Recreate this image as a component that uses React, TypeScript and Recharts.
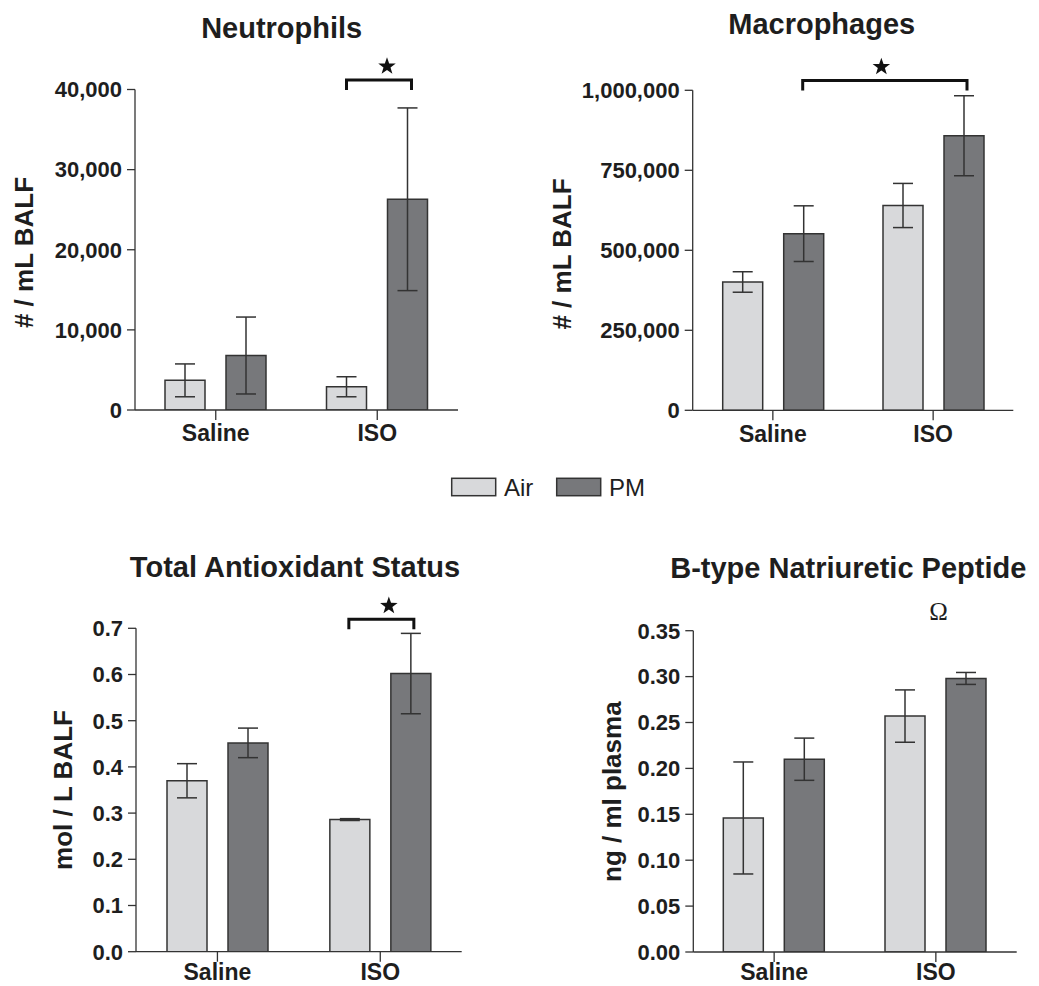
import React from 'react';
import { BarChart, Bar, XAxis, YAxis, ErrorBar } from 'recharts';

// ---- data ----
const groups = ['Saline', 'ISO'];
const seriesNames = ['Air', 'PM'];
const seriesColors = ['#d8d9db', '#77787b'];

const neutrophilAir = [3700, 2900];
const neutrophilAirErr = [2050, 1250];
const neutrophilPM = [6800, 26300];
const neutrophilPMErr = [4800, 11400];
const neutrophilTicks = [0, 10000, 20000, 30000, 40000];

const macrophageAir = [401000, 640000];
const macrophageAirErr = [32000, 69000];
const macrophagePM = [552000, 858000];
const macrophagePMErr = [87000, 125000];
const macrophageTicks = [0, 250000, 500000, 750000, 1000000];

const tasAir = [0.37, 0.286];
const tasAirErr = [0.037, 0.002];
const tasPM = [0.452, 0.602];
const tasPMErr = [0.032, 0.087];
const tasTicks = [0, 0.1, 0.2, 0.3, 0.4, 0.5, 0.6, 0.7];

const bnpAir = [0.146, 0.257];
const bnpAirErr = [0.061, 0.0285];
const bnpPM = [0.21, 0.298];
const bnpPMErr = [0.023, 0.0065];
const bnpTicks = [0, 0.05, 0.1, 0.15, 0.2, 0.25, 0.3, 0.35];

// ---- styling / layout ----
const FONT = '"Liberation Sans", Arial, Helvetica, sans-serif';
const INK = '#1e1e1e';
const LINE = '#333333';
const BAR_SIZE = 40;
const BAR_GAP = 21;
const X_AXIS_H = 50;

type Box = { x: number; y: number; w: number; h: number };
type Plot = { left: number; right: number; top: number; bottom: number };
type Bracket = { from: [number, number]; to: [number, number]; level: number; starDx: number };

type Panel = {
  title: string;
  titlePos: [number, number];
  yLabel: string;
  yLabelPos: [number, number];
  ticks: number[];
  fmt: (v: number) => string;
  air: number[];
  airErr: number[];
  pm: number[];
  pmErr: number[];
  box: Box;
  plot: Plot;
  xAxisH: number;
  xTickMargin: number;
  bracket?: Bracket;
  omega?: { group: number; level: number };
};

const thousands = (v: number) => v.toLocaleString('en-US');

const panels: Panel[] = [
  {
    title: 'Neutrophils',
    titlePos: [281.7, 37.5],
    yLabel: '# / mL BALF',
    yLabelPos: [24, 252.5],
    ticks: neutrophilTicks,
    fmt: thousands,
    air: neutrophilAir,
    airErr: neutrophilAirErr,
    pm: neutrophilPM,
    pmErr: neutrophilPMErr,
    box: { x: 0, y: 0, w: 520, h: 470 },
    plot: { left: 135, right: 458, top: 89.5, bottom: 410 },
    xAxisH: X_AXIS_H,
    xTickMargin: 5,
    bracket: { from: [1, 0], to: [1, 1], level: 41200, starDx: 8 },
  },
  {
    title: 'Macrophages',
    titlePos: [821.7, 34.3],
    yLabel: '# / mL BALF',
    yLabelPos: [561.7, 254],
    ticks: macrophageTicks,
    fmt: thousands,
    air: macrophageAir,
    airErr: macrophageAirErr,
    pm: macrophagePM,
    pmErr: macrophagePMErr,
    box: { x: 520, y: 0, w: 519, h: 470 },
    plot: { left: 692.7, right: 1013.3, top: 90.3, bottom: 410.3 },
    xAxisH: X_AXIS_H,
    xTickMargin: 5,
    bracket: { from: [0, 1], to: [1, 1], level: 1031000, starDx: -3.5 },
  },
  {
    title: 'Total Antioxidant Status',
    titlePos: [295, 576.7],
    yLabel: 'mol / L BALF',
    yLabelPos: [63, 790],
    ticks: tasTicks,
    fmt: (v) => v.toFixed(1),
    air: tasAir,
    airErr: tasAirErr,
    pm: tasPM,
    pmErr: tasPMErr,
    box: { x: 0, y: 540, w: 520, h: 446 },
    plot: { left: 136, right: 461.7, top: 628.3, bottom: 951.7 },
    xAxisH: 34.3,
    xTickMargin: 2,
    bracket: { from: [1, 0], to: [1, 1], level: 0.7195, starDx: 7.5 },
  },
  {
    title: 'B-type Natriuretic Peptide',
    titlePos: [848.3, 578.3],
    yLabel: 'ng / ml plasma',
    yLabelPos: [611.7, 791.7],
    ticks: bnpTicks,
    fmt: (v) => v.toFixed(2),
    air: bnpAir,
    airErr: bnpAirErr,
    pm: bnpPM,
    pmErr: bnpPMErr,
    box: { x: 520, y: 540, w: 519, h: 446 },
    plot: { left: 693.3, right: 1016.7, top: 630.7, bottom: 952 },
    xAxisH: 34,
    xTickMargin: 2,
    omega: { group: 1, level: 0.3707 },
  },
];

// position helpers that mirror the band / bar layout used by the charts
const yPx = (p: Panel, v: number) => {
  const max = p.ticks[p.ticks.length - 1];
  return p.plot.bottom - (v / max) * (p.plot.bottom - p.plot.top);
};
const bandSize = (p: Panel) => (p.plot.right - p.plot.left) / groups.length;
const barCenter = (p: Panel, g: number, s: number) => {
  const band = bandSize(p);
  const total = seriesNames.length * BAR_SIZE + (seriesNames.length - 1) * BAR_GAP;
  const offset = Math.floor((band - total) / 2);
  return p.plot.left + band * g + offset + s * (BAR_SIZE + BAR_GAP) + BAR_SIZE / 2;
};

const starPoints = (cx: number, cy: number, R: number, r: number) => {
  const pts: string[] = [];
  for (let i = 0; i < 10; i++) {
    const rad = i % 2 === 0 ? R : r;
    const a = -Math.PI / 2 + (i * Math.PI) / 5;
    pts.push(`${(cx + rad * Math.cos(a)).toFixed(2)},${(cy + rad * Math.sin(a)).toFixed(2)}`);
  }
  return pts.join(' ');
};

const tickStyleY = { fontFamily: FONT, fontSize: 22, fontWeight: 700, fill: INK };
const tickStyleX = { fontFamily: FONT, fontSize: 23, fontWeight: 700, fill: INK };

function PanelChart({ p }: { p: Panel }) {
  const data = groups.map((g, i) => ({
    group: g,
    air: p.air[i],
    airErr: p.airErr[i],
    pm: p.pm[i],
    pmErr: p.pmErr[i],
  }));
  const max = p.ticks[p.ticks.length - 1];
  const margin = {
    top: p.plot.top - p.box.y,
    right: p.box.x + p.box.w - p.plot.right,
    left: 0,
    bottom: p.box.y + p.box.h - p.plot.bottom - p.xAxisH,
  };
  return (
    <div style={{ position: 'absolute', left: p.box.x, top: p.box.y, width: p.box.w, height: p.box.h }}>
      <BarChart width={p.box.w} height={p.box.h} data={data} margin={margin} barGap={BAR_GAP}>
        <XAxis
          dataKey="group"
          height={p.xAxisH}
          tickSize={10}
          tickMargin={p.xTickMargin}
          axisLine={{ stroke: LINE, strokeWidth: 1.3 }}
          tickLine={{ stroke: LINE, strokeWidth: 1.3 }}
          tick={tickStyleX}
          interval={0}
        />
        <YAxis
          width={p.plot.left - p.box.x}
          domain={[0, max]}
          ticks={p.ticks}
          allowDataOverflow
          interval={0}
          tickFormatter={p.fmt}
          tickSize={8}
          tickMargin={5}
          axisLine={{ stroke: LINE, strokeWidth: 1.3 }}
          tickLine={{ stroke: LINE, strokeWidth: 1.3 }}
          tick={tickStyleY}
        />
        <Bar dataKey="air" name={seriesNames[0]} fill={seriesColors[0]} stroke={LINE} strokeWidth={1.5} barSize={BAR_SIZE} isAnimationActive={false}>
          <ErrorBar dataKey="airErr" width={10} stroke={LINE} strokeWidth={1.5} direction="y" />
        </Bar>
        <Bar dataKey="pm" name={seriesNames[1]} fill={seriesColors[1]} stroke={LINE} strokeWidth={1.5} barSize={BAR_SIZE} isAnimationActive={false}>
          <ErrorBar dataKey="pmErr" width={10} stroke={LINE} strokeWidth={1.5} direction="y" />
        </Bar>
      </BarChart>
    </div>
  );
}

function Annotations() {
  return (
    <svg width={1039} height={986} style={{ position: 'absolute', left: 0, top: 0, pointerEvents: 'none' }}>
      {panels.map((p, i) => (
        <g key={`t${i}`}>
          <text x={p.titlePos[0]} y={p.titlePos[1]} textAnchor="middle" fontFamily={FONT} fontSize={29} fontWeight={700} fill={INK}>
            {p.title}
          </text>
          <text
            transform={`translate(${p.yLabelPos[0]},${p.yLabelPos[1]}) rotate(-90)`}
            textAnchor="middle"
            dominantBaseline="central"
            fontFamily={FONT}
            fontSize={26}
            fontWeight={700}
            fill={INK}
          >
            {p.yLabel}
          </text>
        </g>
      ))}
      {panels.map((p, i) => {
        if (!p.bracket) return null;
        const b = p.bracket;
        const x1 = barCenter(p, b.from[0], b.from[1]);
        const x2 = barCenter(p, b.to[0], b.to[1]) + 4;
        const y = yPx(p, b.level);
        const leg = 10;
        return (
          <g key={`b${i}`}>
            <path d={`M${x1},${y + leg} L${x1},${y} L${x2},${y} L${x2},${y + leg}`} fill="none" stroke="#111" strokeWidth={3} />
            <polygon points={starPoints((x1 + x2) / 2 + b.starDx, y - 13.5, 9.2, 3.7)} fill="#111" />
          </g>
        );
      })}
      {panels.map((p, i) =>
        p.omega ? (
          <text
            key={`o${i}`}
            x={barCenter(p, p.omega.group, 0) / 2 + barCenter(p, p.omega.group, 1) / 2 + 3}
            y={yPx(p, p.omega.level)}
            textAnchor="middle"
            dominantBaseline="central"
            fontFamily='"Liberation Serif", "Times New Roman", serif'
            fontSize={25}
            fill={INK}
          >
            Ω
          </text>
        ) : null
      )}
      {/* legend */}
      {seriesNames.map((name, i) => {
        const x0 = 451.7 + i * 105;
        return (
          <g key={`l${i}`}>
            <rect x={x0} y={478.3} width={44} height={17.4} fill={seriesColors[i]} stroke={LINE} strokeWidth={1.5} />
            <text x={x0 + 52.3} y={495.5} fontFamily={FONT} fontSize={24} fill={INK}>
              {name}
            </text>
          </g>
        );
      })}
    </svg>
  );
}

export default function App() {
  return (
    <div style={{ position: 'absolute', left: 0, top: 0, width: 1039, height: 986, background: '#fff', overflow: 'hidden' }}>
      {panels.map((p, i) => (
        <PanelChart key={i} p={p} />
      ))}
      <Annotations />
    </div>
  );
}
